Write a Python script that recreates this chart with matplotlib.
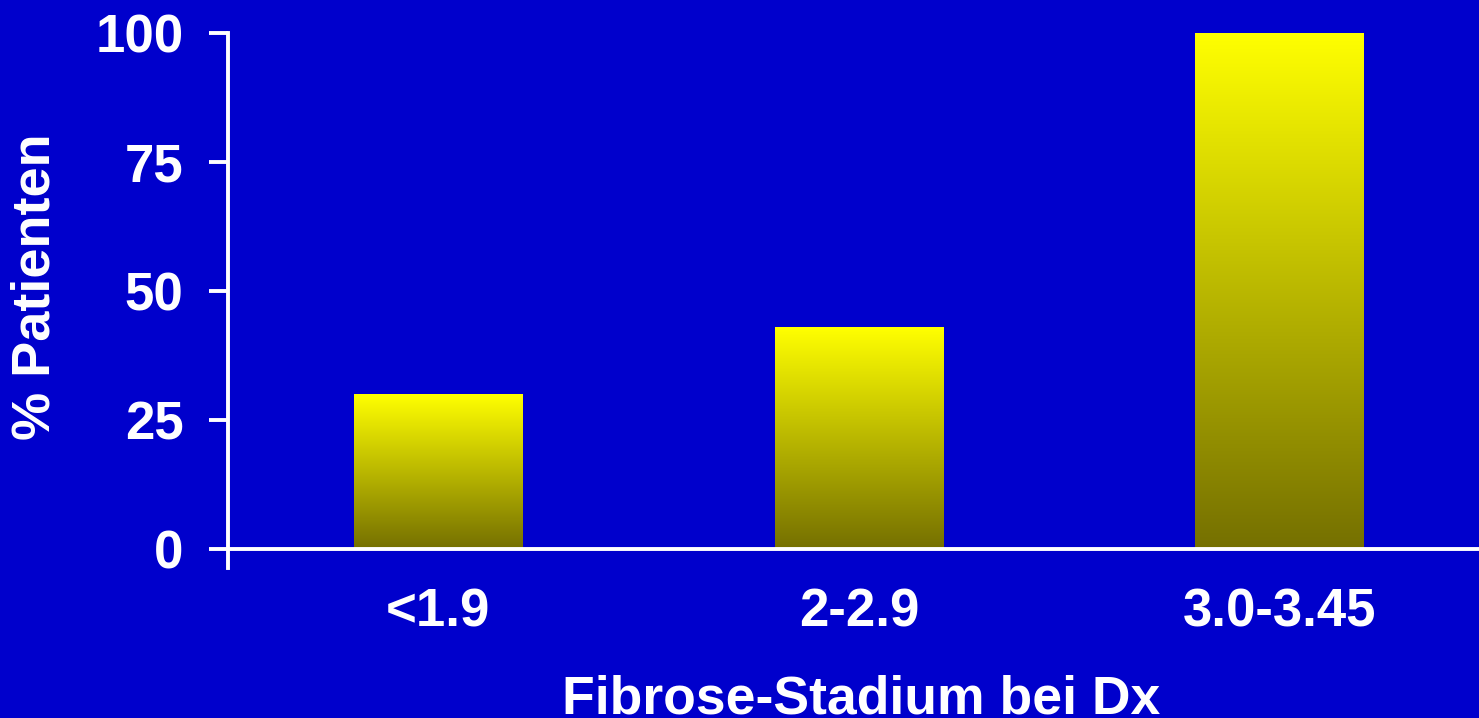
import numpy as np
import matplotlib
matplotlib.use('Agg')
import matplotlib.pyplot as plt
from matplotlib.colors import LinearSegmentedColormap

# data
categories = ['<1.9', '2-2.9', '3.0-3.45']
percent = [30, 43, 100]
yticks = [0, 25, 50, 75, 100]

BG = '#0000CC'
plt.rcParams['font.family'] = ['Liberation Sans', 'DejaVu Sans']
plt.rcParams['font.weight'] = 'bold'

fig = plt.figure(figsize=(14.79, 7.18), dpi=100, facecolor=BG)
ax = fig.add_axes([228 / 1479, 1 - 568 / 718, 1 - 228 / 1479, (568 - 33) / 718])
ax.set_facecolor(BG)

x = np.arange(len(categories))
bars = ax.bar(x, percent, width=0.40, color='none', edgecolor='none')

# yellow -> olive gradient inside every bar
grad = LinearSegmentedColormap.from_list('bar', ['#757000', '#FFFF00'])
g = np.linspace(0, 1, 256).reshape(-1, 1)
for b in bars:
    x0, y0 = b.get_x(), b.get_y()
    im = ax.imshow(g, cmap=grad, aspect='auto', origin='lower',
                   extent=[x0, x0 + b.get_width(), y0, y0 + b.get_height()],
                   zorder=2)
    im.set_clip_path(b)

ax.set_xlim(-0.5, 2.474)
ax.set_ylim(-3.7, 100)
ax.set_xticks(x)
ax.set_xticklabels(categories)
ax.set_yticks(yticks)

for s in ['top', 'right']:
    ax.spines[s].set_visible(False)
ax.spines['bottom'].set_position(('data', 0))
for s in ['left', 'bottom']:
    ax.spines[s].set_color('white')
    ax.spines[s].set_linewidth(2.8)
    ax.spines[s].set_zorder(3)

ax.tick_params(axis='y', colors='white', length=14, width=2.8, pad=18,
               labelsize=38)
ax.tick_params(axis='x', colors='white', length=0, pad=28, labelsize=38)
for lab in ax.get_xticklabels() + ax.get_yticklabels():
    lab.set_fontweight('bold')

fig.text(36 / 1479, 1 - 287 / 718, '% Patienten', rotation=90, color='white',
         fontsize=39, fontweight='bold', ha='center', va='center')
fig.text(861 / 1479, 1 - 713 / 718, 'Fibrose-Stadium bei Dx', color='white',
         fontsize=38.5, fontweight='bold', ha='center', va='baseline')

fig.savefig('out.png', dpi=100, facecolor=BG)
